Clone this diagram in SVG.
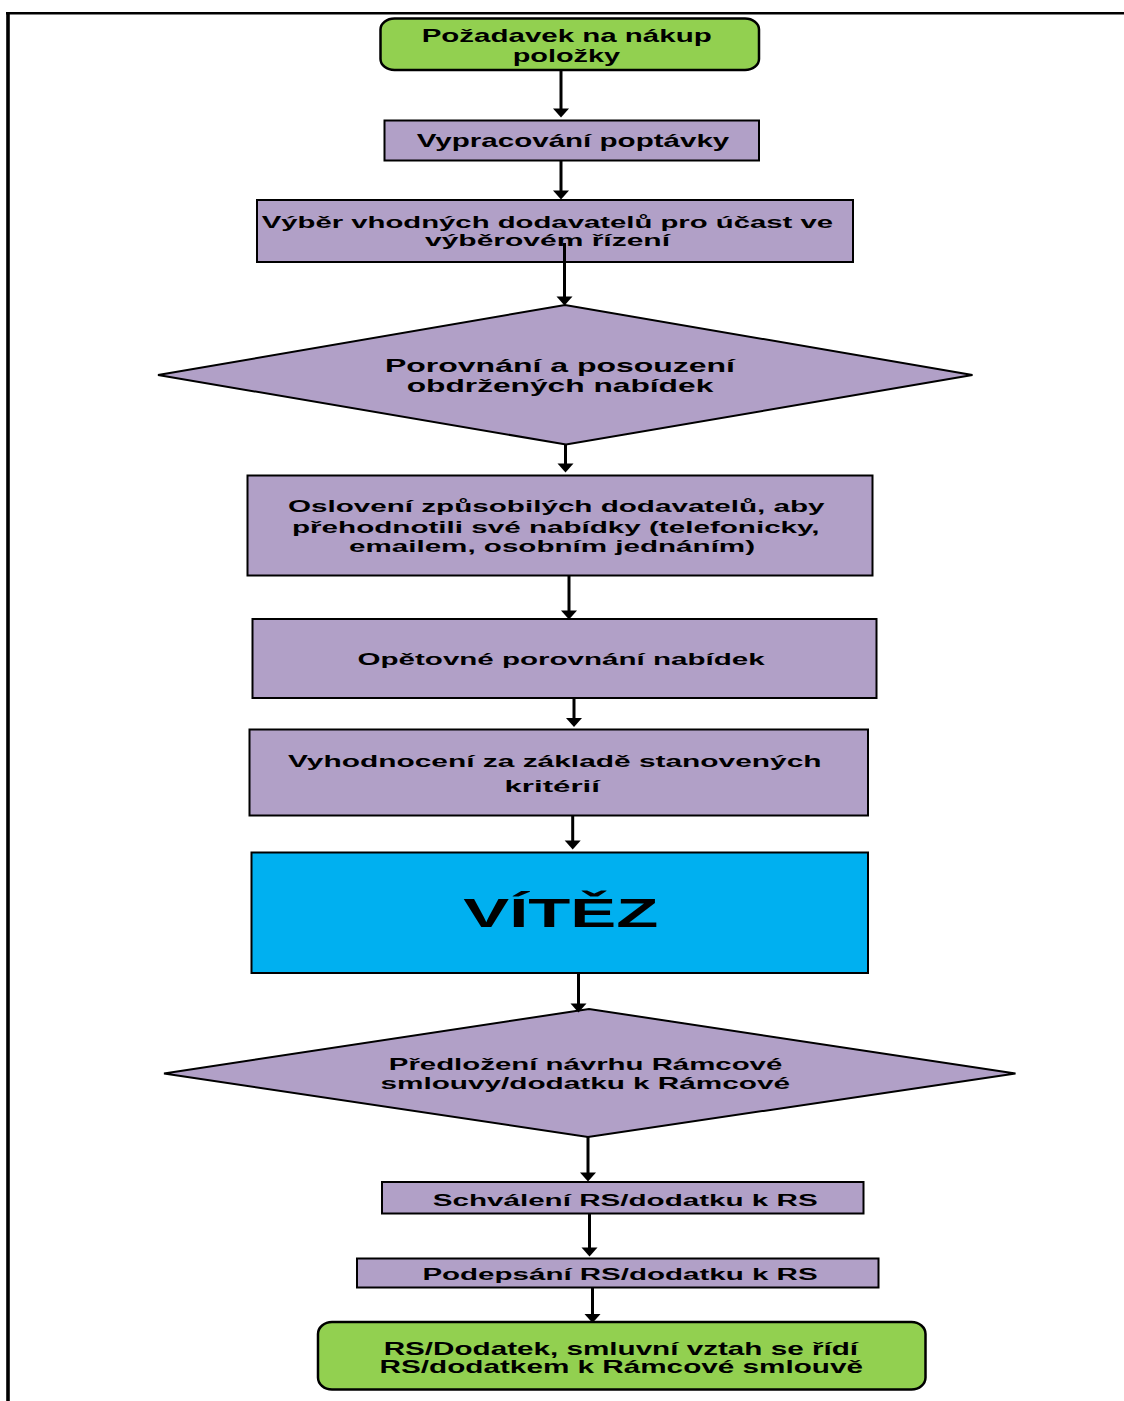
<svg xmlns="http://www.w3.org/2000/svg" width="1124" height="1401" viewBox="0 0 1124 1401">
<defs>
<style>
.t{font-family:"Liberation Sans",Arial,sans-serif;font-weight:bold;fill:#000}
.box{fill:#B1A0C7;stroke:#000;stroke-width:2}
.green{fill:#92D050;stroke:#000;stroke-width:2.5}
.blue{fill:#00B0F0;stroke:#000;stroke-width:2}
.c{stroke:#000;stroke-width:3;fill:none}
.ah{fill:#000}
</style>
</defs>
<rect x="0" y="0" width="1124" height="1401" fill="#fff"/>
<g id="frame">
<line x1="6" y1="13.3" x2="1124" y2="13.3" stroke="#000" stroke-width="2.6"/>
<line x1="8" y1="12" x2="8" y2="1401" stroke="#000" stroke-width="3.6"/>
</g>
<g id="n1">
<rect class="green" x="380.5" y="18.5" width="378.5" height="51.5" rx="14" ry="11"/>
<text class="t" x="421.7" y="41.7" font-size="18.5" textLength="290" lengthAdjust="spacingAndGlyphs">Požadavek na nákup</text>
<text class="t" x="512.7" y="61.5" font-size="18.5" textLength="107.5" lengthAdjust="spacingAndGlyphs">položky</text>
</g>
<g id="n2">
<rect class="box" x="384.5" y="120.5" width="374.5" height="40"/>
<text class="t" x="416.7" y="146.7" font-size="18.5" textLength="312.6" lengthAdjust="spacingAndGlyphs">Vypracování poptávky</text>
</g>
<g id="n3">
<rect class="box" x="257" y="200" width="596" height="62"/>
<text class="t" x="261.7" y="227.7" font-size="16.5" textLength="571.3" lengthAdjust="spacingAndGlyphs">Výběr vhodných dodavatelů pro účast ve</text>
<text class="t" x="425" y="245.7" font-size="16.5" textLength="245" lengthAdjust="spacingAndGlyphs">výběrovém řízení</text>
</g>
<g id="n4">
<polygon class="box" points="158,375 565,305 972.5,375 566,444.5"/>
<text class="t" x="385" y="371.7" font-size="18.5" textLength="350" lengthAdjust="spacingAndGlyphs">Porovnání a posouzení</text>
<text class="t" x="406.7" y="392" font-size="18.5" textLength="306.6" lengthAdjust="spacingAndGlyphs">obdržených nabídek</text>
</g>
<g id="n5">
<rect class="box" x="247.5" y="475.5" width="625" height="100"/>
<text class="t" x="288" y="511.7" font-size="17" textLength="536.5" lengthAdjust="spacingAndGlyphs">Oslovení způsobilých dodavatelů, aby</text>
<text class="t" x="292" y="532.5" font-size="17" textLength="527.6" lengthAdjust="spacingAndGlyphs">přehodnotili své nabídky (telefonicky,</text>
<text class="t" x="349" y="551.7" font-size="17" textLength="406" lengthAdjust="spacingAndGlyphs">emailem, osobním jednáním)</text>
</g>
<g id="n6">
<rect class="box" x="252.5" y="619" width="624" height="79"/>
<text class="t" x="357.6" y="665" font-size="17" textLength="407" lengthAdjust="spacingAndGlyphs">Opětovné porovnání nabídek</text>
</g>
<g id="n7">
<rect class="box" x="249.5" y="729.5" width="618.5" height="86"/>
<text class="t" x="288" y="766.7" font-size="17" textLength="533.6" lengthAdjust="spacingAndGlyphs">Vyhodnocení za základě stanovených</text>
<text class="t" x="504.5" y="791.7" font-size="17" textLength="95.5" lengthAdjust="spacingAndGlyphs">kritérií</text>
</g>
<g id="n8">
<rect class="blue" x="251.5" y="852.5" width="616.5" height="120.5"/>
<text class="t" x="463.3" y="926.7" font-size="40" textLength="195" lengthAdjust="spacingAndGlyphs">VÍTĚZ</text>
</g>
<g id="n9">
<polygon class="box" points="164,1073.5 589,1009 1015.5,1073.5 588,1137"/>
<text class="t" x="388.8" y="1070" font-size="17" textLength="393.5" lengthAdjust="spacingAndGlyphs">Předložení návrhu Rámcové</text>
<text class="t" x="380.5" y="1089.3" font-size="17" textLength="409.5" lengthAdjust="spacingAndGlyphs">smlouvy/dodatku k Rámcové</text>
</g>
<g id="n10">
<rect class="box" x="382" y="1182" width="481.5" height="31.5"/>
<text class="t" x="432.7" y="1205.5" font-size="16" textLength="385" lengthAdjust="spacingAndGlyphs">Schválení RS/dodatku k RS</text>
</g>
<g id="n11">
<rect class="box" x="357" y="1258.5" width="521.5" height="29"/>
<text class="t" x="422.4" y="1280" font-size="16" textLength="395.2" lengthAdjust="spacingAndGlyphs">Podepsání RS/dodatku k RS</text>
</g>
<g id="n12">
<rect class="green" x="318" y="1322" width="607.5" height="67.5" rx="14" ry="12"/>
<text class="t" x="383.7" y="1354.5" font-size="17.7" textLength="474.3" lengthAdjust="spacingAndGlyphs">RS/Dodatek, smluvní vztah se řídí</text>
<text class="t" x="379.6" y="1373" font-size="17.7" textLength="483.4" lengthAdjust="spacingAndGlyphs">RS/dodatkem k Rámcové smlouvě</text>
</g>
<g id="connectors">
<line class="c" x1="561" y1="70" x2="561" y2="110"/>
<polygon class="ah" points="553,108.5 569,108.5 561,117.5"/>
<line class="c" x1="561" y1="160.5" x2="561" y2="192"/>
<polygon class="ah" points="553,190.5 569,190.5 561,199.5"/>
<line class="c" x1="564.5" y1="243" x2="564.5" y2="298"/>
<polygon class="ah" points="556.5,296.5 572.5,296.5 564.5,305.5"/>
<line class="c" x1="565.5" y1="444.5" x2="565.5" y2="465"/>
<polygon class="ah" points="557.5,463.5 573.5,463.5 565.5,472.5"/>
<line class="c" x1="569" y1="575.5" x2="569" y2="612"/>
<polygon class="ah" points="561,610.5 577,610.5 569,619.5"/>
<line class="c" x1="574" y1="698" x2="574" y2="720"/>
<polygon class="ah" points="566,718 582,718 574,727"/>
<line class="c" x1="572.7" y1="815.5" x2="572.7" y2="842"/>
<polygon class="ah" points="564.7,840.5 580.7,840.5 572.7,849.5"/>
<line class="c" x1="578.5" y1="973" x2="578.5" y2="1005"/>
<polygon class="ah" points="570.5,1003.5 586.5,1003.5 578.5,1012.5"/>
<line class="c" x1="588" y1="1137" x2="588" y2="1174"/>
<polygon class="ah" points="580,1172.5 596,1172.5 588,1181.5"/>
<line class="c" x1="589.5" y1="1213.5" x2="589.5" y2="1249"/>
<polygon class="ah" points="581.5,1247.5 597.5,1247.5 589.5,1256.5"/>
<line class="c" x1="592.5" y1="1287.5" x2="592.5" y2="1316"/>
<polygon class="ah" points="584.5,1314 600.5,1314 592.5,1323"/>
</g>
</svg>
